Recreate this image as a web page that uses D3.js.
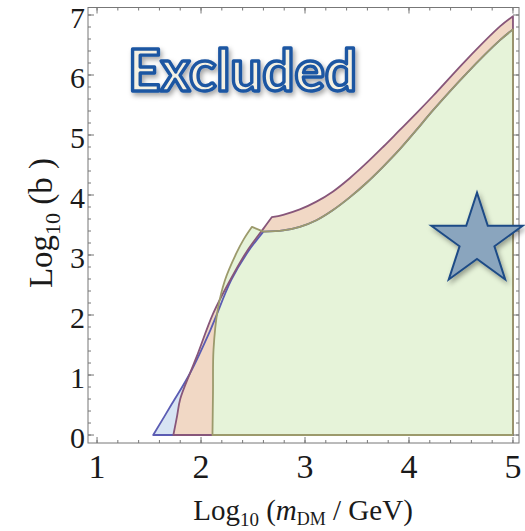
<!DOCTYPE html>
<html>
<head>
<meta charset="utf-8">
<script src="https://cdn.jsdelivr.net/npm/d3@7"></script>
<style>
  html, body { margin: 0; padding: 0; background: #fff; }
  svg { display: block; }
</style>
</head>
<body>
<svg id="chart" width="525" height="531"></svg>
<script>
// Excluded regions in the (log10 mDM, log10 b) plane, each given by its boundary curves.
const blueEdge  = [[1.54, 0], [1.72, 0.52], [1.894, 1.03], [2.09, 1.75], [2.29, 2.58], [2.45, 3.05], [2.6, 3.39]];
const pinkEdge  = [[1.734, 0], [1.77, 0.32], [1.80, 0.6], [1.894, 1.03], [1.959, 1.31], [2.118, 2.03],
                   [2.28, 2.58], [2.44, 3.06], [2.6, 3.44], [2.68, 3.63]];
const pinkTop   = [[2.68, 3.63], [2.79, 3.67], [2.95, 3.76], [3.11, 3.89], [3.27, 4.06], [3.43, 4.28],
                   [3.59, 4.53], [3.75, 4.80], [3.91, 5.08], [4.07, 5.36], [4.23, 5.65], [4.55, 6.25],
                   [4.875, 6.81], [5.0, 6.98]];
const greenEdge = [[2.11, 0], [2.115, 0.7], [2.12, 1.42], [2.16, 2.08], [2.23, 2.58], [2.34, 3.03],
                   [2.41, 3.26], [2.49, 3.47]];
const greenTop  = [[2.6, 3.39], [2.79, 3.41], [2.95, 3.47], [3.11, 3.58], [3.27, 3.75], [3.43, 3.96],
                   [3.59, 4.20], [3.75, 4.47], [3.91, 4.76], [4.07, 5.08], [4.23, 5.41], [4.55, 6.02],
                   [4.875, 6.58], [5.0, 6.76]];
const benchmark = { x: 4.654, y: 3.24 };

const xTicks = [1, 2, 3, 4, 5];
const yTicks = [0, 1, 2, 3, 4, 5, 6, 7];
const xMinor = d3.range(1, 5.001, 0.2);
const yMinor = d3.range(0, 7.001, 0.2);
const regionLabel = "Excluded";

const svg = d3.select("#chart");
const frameL = 88, frameR = 519, frameT = 7.5, frameB = 443;

const x = d3.scaleLinear().domain([0.913, 5.058]).range([frameL, frameR]);
const y = d3.scaleLinear().domain([-0.133, 7.125]).range([frameB, frameT]);

const defs = svg.append("defs");
const shadow = defs.append("filter").attr("id", "shadow")
  .attr("x", "-20%").attr("y", "-20%").attr("width", "140%").attr("height", "140%");
shadow.append("feDropShadow").attr("dx", 2).attr("dy", 3).attr("stdDeviation", 2.5)
  .attr("flood-color", "#000").attr("flood-opacity", 0.35);

const smooth = d3.line().x(d => x(d[0])).y(d => y(d[1])).curve(d3.curveCatmullRom.alpha(0.5));
const join = (...parts) => parts.map((p, i) => i === 0 ? smooth(p) : smooth(p).replace(/^M/, "L")).join("");
const close = (last) => `L${x(last[0])},${y(0)}Z`;

const regions = [
  { path: join(blueEdge, greenTop) + close(greenTop[greenTop.length - 1]),
    fill: "#d7e4f3", stroke: "#5b5cb3" },
  { path: join(pinkEdge, pinkTop) + close(pinkTop[pinkTop.length - 1]),
    fill: "#f1d8c5", stroke: "#87567a" },
  { path: join(greenEdge, [greenEdge[greenEdge.length - 1], greenTop[0]], greenTop) + close(greenTop[greenTop.length - 1]),
    fill: "#e6f3d9", stroke: "#9c9a6c" }
];

const plot = svg.append("g");
plot.selectAll("path.fill").data(regions).join("path")
  .attr("class", "fill").attr("d", d => d.path).attr("fill", d => d.fill).attr("stroke", "none");
plot.selectAll("path.edge").data(regions).join("path")
  .attr("class", "edge").attr("d", d => d.path).attr("fill", "none")
  .attr("stroke", d => d.stroke).attr("stroke-width", 1.8).attr("stroke-linejoin", "round");

// Frame with inward ticks on all four sides
const frame = svg.append("g").attr("stroke", "#777").attr("stroke-width", 1);
frame.append("rect").attr("x", frameL).attr("y", frameT).attr("width", frameR - frameL).attr("height", frameB - frameT)
  .attr("fill", "none");
function ticks(values, len, horizontal) {
  values.forEach(v => {
    if (horizontal) {
      const px = x(v);
      frame.append("line").attr("x1", px).attr("x2", px).attr("y1", frameB).attr("y2", frameB - len);
      frame.append("line").attr("x1", px).attr("x2", px).attr("y1", frameT).attr("y2", frameT + len);
    } else {
      const py = y(v);
      frame.append("line").attr("x1", frameL).attr("x2", frameL + len).attr("y1", py).attr("y2", py);
      frame.append("line").attr("x1", frameR).attr("x2", frameR - len).attr("y1", py).attr("y2", py);
    }
  });
}
ticks(xMinor, 3, true);
ticks(xTicks, 6, true);
ticks(yMinor, 3, false);
ticks(yTicks, 6, false);

const serif = "'Liberation Serif', 'Times New Roman', serif";
svg.append("g").selectAll("text").data(xTicks).join("text")
  .attr("x", d => x(d)).attr("y", 478).attr("text-anchor", "middle")
  .attr("font-family", serif).attr("font-size", 34).attr("fill", "#1a1a1a").text(d => d);
svg.append("g").selectAll("text").data(yTicks).join("text")
  .attr("x", 85).attr("y", d => y(d)).attr("dy", "0.42em").attr("text-anchor", "end")
  .attr("font-family", serif).attr("font-size", 30).attr("fill", "#1a1a1a").text(d => d);

// Axis titles
const xt = svg.append("text").attr("x", 303).attr("y", 520).attr("text-anchor", "middle")
  .attr("font-family", serif).attr("font-size", 29).attr("fill", "#1a1a1a");
xt.append("tspan").text("Log");
xt.append("tspan").attr("font-size", 19).attr("dy", 6).text("10");
xt.append("tspan").attr("dy", -6).text(" (");
xt.append("tspan").attr("font-style", "italic").text("m");
xt.append("tspan").attr("font-size", 18).attr("dy", 5).text("DM");
xt.append("tspan").attr("dy", -5).text(" / GeV)");

const yt = svg.append("text").attr("transform", "translate(52,223) rotate(-90)").attr("text-anchor", "middle")
  .attr("font-family", serif).attr("font-size", 33).attr("fill", "#1a1a1a");
yt.append("tspan").text("Log");
yt.append("tspan").attr("font-size", 22).attr("dy", 8).text("10");
yt.append("tspan").attr("dy", -8).text(" (b )");

// Region label
svg.append("text").attr("x", 128).attr("y", 91)
  .attr("font-family", "Lato, 'Open Sans', sans-serif").attr("font-weight", 700).attr("font-size", 57)
  .attr("textLength", 229).attr("lengthAdjust", "spacingAndGlyphs")
  .attr("fill", "#f5f1e3").attr("stroke", "#1d56a2").attr("stroke-width", 3.4)
  .attr("stroke-linejoin", "round").attr("filter", "url(#shadow)")
  .text(regionLabel);

// Benchmark point
const R = 48, r = R * 0.382;
const starPts = d3.range(10).map(i => {
  const a = -Math.PI / 2 + i * Math.PI / 5;
  const rad = i % 2 === 0 ? R : r;
  return [Math.cos(a) * rad, Math.sin(a) * rad];
});
svg.append("polygon")
  .attr("transform", `translate(${x(benchmark.x)},${y(benchmark.y)})`)
  .attr("points", starPts.map(p => p.join(",")).join(" "))
  .attr("fill", "#8aa5be").attr("stroke", "#1f4b86").attr("stroke-width", 2)
  .attr("stroke-linejoin", "miter").attr("filter", "url(#shadow)");
</script>
</body>
</html>
